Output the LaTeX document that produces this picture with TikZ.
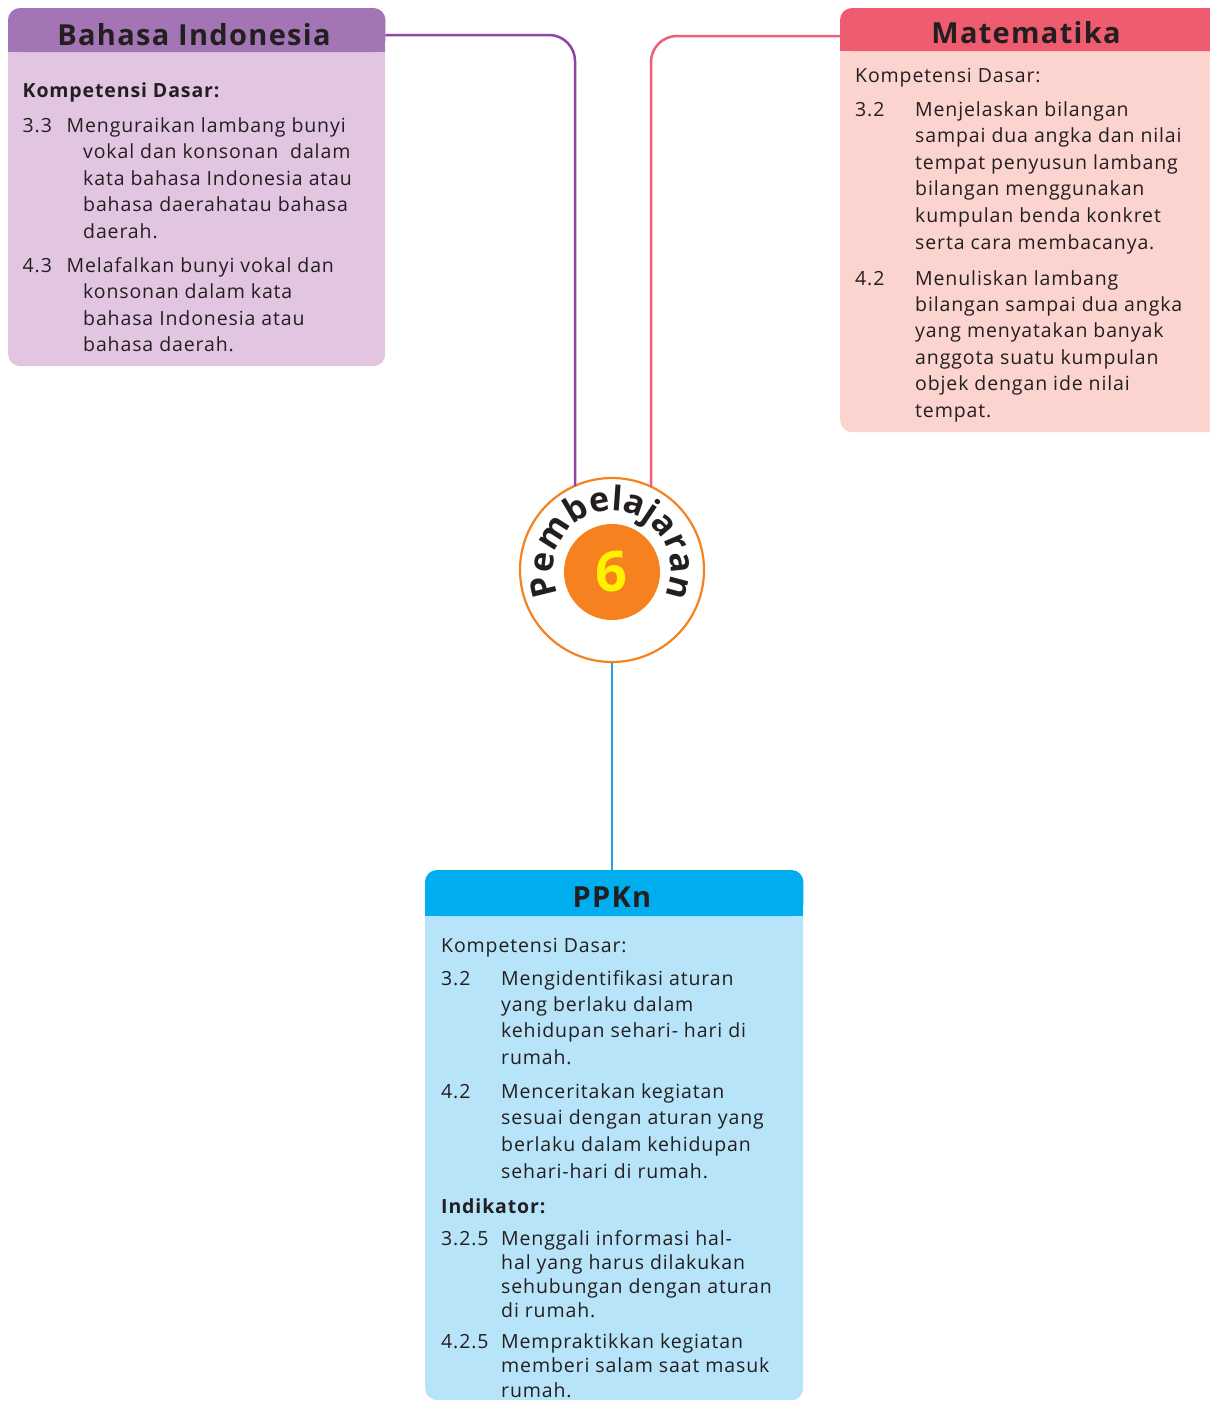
\documentclass[tikz,border=0pt]{standalone}
\usepackage{fontspec}
\setmainfont[LetterSpace=4.5]{Open Sans}
\newfontfamily\arcfont{Open Sans}
\usetikzlibrary{decorations.text,calc}
\definecolor{ink}{HTML}{231F20}
\definecolor{biHead}{HTML}{A375B5}
\definecolor{biBody}{HTML}{E2C6E1}
\definecolor{biLine}{HTML}{8E44A8}
\definecolor{mtHead}{HTML}{EF5B6F}
\definecolor{mtBody}{HTML}{FBD3CF}
\definecolor{mtLine}{HTML}{EE6079}
\definecolor{pkHead}{HTML}{00AEEF}
\definecolor{pkBody}{HTML}{B8E4F9}
\definecolor{pkLine}{HTML}{1DA6E1}
\definecolor{hubOr}{HTML}{F5821F}
\definecolor{six}{HTML}{FFF200}
\tikzset{
  txt/.style={anchor=base west, inner sep=0pt, text=ink, font=\fontsize{19.5}{24}\selectfont},
  txtb/.style={txt, font=\fontsize{19.5}{24}\selectfont\bfseries},
  title/.style={anchor=base, inner sep=0pt, text=ink, font=\fontsize{29}{34}\selectfont\bfseries},
  bodybox/.style={draw=none, rounded corners=12pt, inner sep=0pt, anchor=north west},
  conn/.style={line width=2.5pt, rounded corners=26pt},
}
\newcommand\lineblock[5]{\foreach \t [count=\i] in {#5} {\node[txt] (#1-\i) at (#2,{-(#3)-(\i-1)*#4}) {\t};}}
\begin{document}
\begin{tikzpicture}[x=1pt,y=1pt]
\clip (0,0) rectangle (1210,-1403);
\fill[white] (0,0) rectangle (1210,-1403);

% ---------- Bahasa Indonesia box
\node[bodybox, fill=biBody, minimum width=377pt, minimum height=358pt] (bi) at (8,-8) {};
\fill[biHead, rounded corners=12pt] (bi.north west) rectangle ($(bi.north east)+(0,-44)$);
\fill[biHead] ($(bi.north west)+(0,-22)$) rectangle ($(bi.north east)+(0,-44)$);
\coordinate (biout) at ($(bi.north east)+(0,-27)$);
\node[title] (bititle) at (194,-45) {Bahasa Indonesia};
\node[txtb] (bikd) at (22.5,-97) {Kompetensi Dasar:};
\node[txt] (b33n) at (22.5,-132) {3.3};
\node[txt] (b33a) at (66.5,-132) {Menguraikan lambang bunyi};
\lineblock{b33}{83}{158.5}{26.5}{vokal dan konsonan \ dalam, kata bahasa Indonesia atau, bahasa daerahatau bahasa, daerah.}
\node[txt] (b43n) at (22.5,-272) {4.3};
\node[txt] (b43a) at (66.5,-272) {Melafalkan bunyi vokal dan};
\lineblock{b43}{83}{298.5}{26.7}{konsonan dalam kata, bahasa Indonesia atau, bahasa daerah.}

% ---------- Matematika box
\node[bodybox, fill=mtBody, minimum width=385pt, minimum height=424pt] (mt) at (840,-8) {};
\fill[mtHead, rounded corners=12pt] (mt.north west) rectangle ($(mt.north east)+(0,-43)$);
\fill[mtHead] ($(mt.north west)+(0,-22)$) rectangle ($(mt.north east)+(0,-43)$);
\coordinate (mtout) at ($(mt.north west)+(0,-28)$);
\node[title] (mttitle) at (1026,-43) {Matematika};
\node[txt] (mtkd) at (855,-82.5) {Kompetensi Dasar:};
\node[txt] (m32n) at (855,-116) {3.2};
\lineblock{m32}{915}{116}{26.6}{Menjelaskan bilangan, sampai dua angka dan nilai, tempat penyusun lambang, bilangan menggunakan, kumpulan benda konkret, serta cara membacanya.}
\node[txt] (m42n) at (855,-285) {4.2};
\lineblock{m42}{915}{285}{26.4}{Menuliskan lambang, bilangan sampai dua angka, yang menyatakan banyak, anggota suatu kumpulan, objek dengan ide nilai, tempat.}

% ---------- PPKn box
\node[bodybox, fill=pkBody, minimum width=378pt, minimum height=530pt] (pk) at (425,-870) {};
\fill[pkHead, rounded corners=12pt] (pk.north west) rectangle ($(pk.north east)+(0,-46)$);
\fill[pkHead] ($(pk.north west)+(0,-22)$) rectangle ($(pk.north east)+(0,-46)$);
\node[title] (pktitle) at (612,-907) {PPKn};
\node[txt] (pkkd) at (441,-952) {Kompetensi Dasar:};
\node[txt] (p32n) at (441,-985) {3.2};
\lineblock{p32}{501}{985}{26.4}{Mengidentifikasi aturan, yang berlaku dalam, kehidupan sehari- hari di, rumah.}
\node[txt] (p42n) at (441,-1098) {4.2};
\lineblock{p42}{501}{1098}{26.7}{Menceritakan kegiatan, sesuai dengan aturan yang, berlaku dalam kehidupan, sehari-hari di rumah.}
\node[txtb] (pkind) at (441,-1213) {Indikator:};
\node[txt] (p325n) at (441,-1245) {3.2.5};
\lineblock{p325}{501}{1245}{24.3}{Menggali informasi hal-, hal yang harus dilakukan, sehubungan dengan aturan, di rumah.}
\node[txt] (p425n) at (441,-1348) {4.2.5};
\lineblock{p425}{501}{1348}{24.5}{Mempraktikkan kegiatan, memberi salam saat masuk, rumah.}

% ---------- hub
\node[circle, draw=hubOr, line width=2.2pt, fill=white, minimum size=184pt, inner sep=0pt] (hub) at (612,-570) {};
\node[circle, fill=hubOr, minimum size=96pt, inner sep=0pt] (disk) at (612,-572) {};
\node[inner sep=0pt, text=six, font=\arcfont\fontsize{56}{56}\selectfont\bfseries] (num) at (611,-572) {6};
\path[decorate, decoration={text along path, text align=fit to path,
  text={|\arcfont\fontsize{34}{34}\selectfont\bfseries\color{ink}|Pembelajaran}}]
  ($(hub.center)+(204:59)$) arc[start angle=204, end angle=-23, radius=59];

\coordinate (bij) at (575,-486);
\coordinate (mtj) at (651,-487);

% ---------- connectors
\draw[conn, biLine] (biout) -| (bij);
\draw[conn, mtLine] (mtout) -| (mtj);
\draw[line width=2.5pt, pkLine] (hub.south) -- (hub.south |- pk.north);
\end{tikzpicture}
\end{document}
